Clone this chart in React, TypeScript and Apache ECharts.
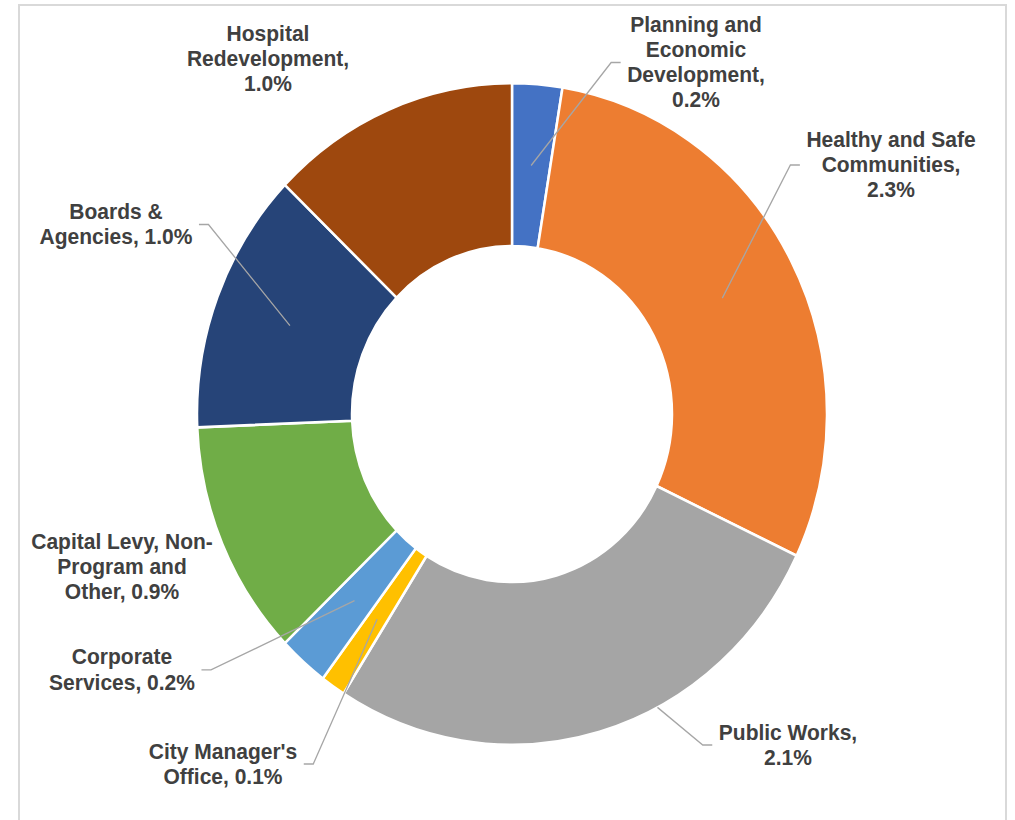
import React, { useEffect, useRef } from "react";
import * as echarts from "echarts";

// ---- data ----
const categories = [
  "Planning and Economic Development",
  "Healthy and Safe Communities",
  "Public Works",
  "City Manager's Office",
  "Corporate Services",
  "Capital Levy, Non-Program and Other",
  "Boards & Agencies",
  "Hospital Redevelopment",
];
const values = [0.2, 2.3, 2.1, 0.1, 0.2, 0.9, 1.0, 1.0];
const labelNames = [
  "Planning and\nEconomic\nDevelopment,",
  "Healthy and Safe\nCommunities,",
  "Public Works,",
  "City Manager's\nOffice,",
  "Corporate\nServices,",
  "Capital Levy, Non-\nProgram and\nOther,",
  "Boards &\nAgencies,",
  "Hospital\nRedevelopment,",
];
const valueSeparators = ["\n", "\n", "\n", " ", " ", " ", " ", "\n"];

// ---- styling / layout ----
const colors = ["#4472C4", "#ED7D31", "#A5A5A5", "#FFC000", "#5B9BD5", "#70AD47", "#264478", "#9E480E"];
const STRETCH = 1.05;
const CX = 512;
const CY = 394.3;
const R_IN = 160;
const R_OUT = 315;
const labelPos: [number, number][] = [
  [696, 59.5],
  [891, 157.1],
  [788, 709.5],
  [223, 727.6],
  [122, 638],
  [122, 540],
  [116, 213.8],
  [268, 56.2],
];
// which side of the label the leader line attaches to (null: no line)
const leaderSide: (string | null)[] = ["left", "left", "left", "right", "right", null, "right", null];
// radius where the leader line starts, and optional angle override (deg from top)
const anchorR = [237.5, 237.5, R_OUT, 237.5, 237.5, 0, 237.5, 0];
const anchorAngle: (number | null)[] = [null, null, 152.5, null, null, null, null, null];

export default function App() {
  const ref = useRef<HTMLDivElement>(null);
  useEffect(() => {
    if (!ref.current) return;
    const chart = echarts.init(ref.current, undefined, { renderer: "svg" });
    const total = values.reduce((a, b) => a + b, 0);
    const midAngles: number[] = [];
    let cum = 0;
    values.forEach((v) => {
      midAngles.push(((cum + v / 2) / total) * 360);
      cum += v;
    });
    const common = {
      type: "pie",
      center: [CX, CY],
      radius: [R_IN, R_OUT],
      startAngle: 90,
      clockwise: true,
      avoidLabelOverlap: false,
    };
    const option = {
      animation: false,
      backgroundColor: "#ffffff",
      graphic: [
        {
          type: "rect",
          shape: { x: 19, y: 4.8, width: 987, height: 820 },
          style: { fill: "none", stroke: "#d9d9d9", lineWidth: 2 },
          silent: true,
        },
      ],
      series: [
        {
          ...common,
          z: 2,
          itemStyle: { borderColor: "#ffffff", borderWidth: 2.5 },
          label: { show: false },
          labelLine: { show: false },
          data: categories.map((name, i) => ({
            name,
            value: values[i],
            itemStyle: { color: colors[i] },
          })),
        },
        {
          ...common,
          z: 5,
          silent: true,
          itemStyle: { color: "rgba(0,0,0,0)", borderWidth: 0 },
          label: {
            show: true,
            position: "outside",
            color: "#404040",
            fontFamily: "'Liberation Sans', Arial, sans-serif",
            fontWeight: "bold",
            fontSize: 21,
            lineHeight: 24,
            align: "center",
            formatter: (p: any) =>
              labelNames[p.dataIndex] + valueSeparators[p.dataIndex] + values[p.dataIndex].toFixed(1) + "%",
          },
          labelLine: {
            show: true,
            showAbove: true,
            lineStyle: { color: "#a6a6a6", width: 1.3 },
          },
          labelLayout: (params: any) => {
            const i = params.dataIndex;
            const [x, y] = labelPos[i];
            const w = params.labelRect.width;
            const res: any = { x, y, align: "center", verticalAlign: "middle" };
            const side = leaderSide[i];
            if (side) {
              const deg = anchorAngle[i] != null ? (anchorAngle[i] as number) : midAngles[i];
              const a = (deg * Math.PI) / 180;
              const r = anchorR[i];
              const p0 = [CX + r * Math.sin(a), CY - r * Math.cos(a)];
              const gap = 6.5;
              const ex = side === "left" ? x - w / 2 - gap : x + w / 2 + gap;
              const elbow = side === "left" ? ex - 9.5 : ex + 9.5;
              res.labelLinePoints = [p0, [elbow, y], [ex, y]];
            }
            return res;
          },
          data: categories.map((name, i) => ({
            name,
            value: values[i],
            labelLine: { show: leaderSide[i] != null },
          })),
        },
      ],
    };
    chart.setOption(option as any);
    return () => chart.dispose();
  }, []);
  return (
    <div
      style={{
        position: "absolute",
        left: 0,
        top: 0,
        width: 1015,
        height: 820 / STRETCH,
        transform: `scaleY(${STRETCH})`,
        transformOrigin: "0 0",
      }}
    >
      <div ref={ref} style={{ width: 1015, height: 820 / STRETCH }} />
    </div>
  );
}
